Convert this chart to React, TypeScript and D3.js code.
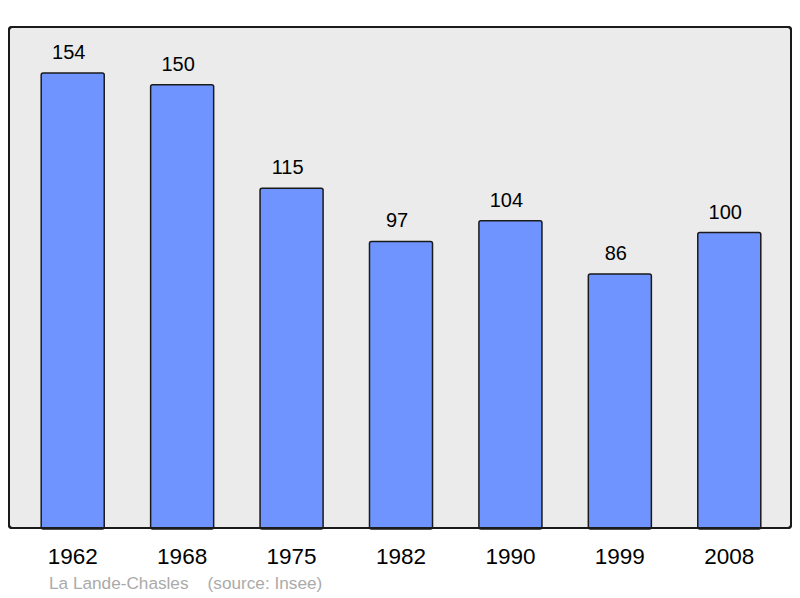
import * as d3 from "d3";

const years = ["1962", "1968", "1975", "1982", "1990", "1999", "2008"];
const population = [154, 150, 115, 97, 104, 86, 100];
const commune = "La Lande-Chasles";
const source = "(source: Insee)";

const W = 800;
const H = 598;
const panel = { left: 9, top: 27, right: 791, bottom: 528 };

export default function App() {
  const x = d3.scaleBand<string>()
    .domain(years)
    .range([18, 784])
    .paddingInner(0.424)
    .paddingOuter(0.212);

  const y = d3.scaleLinear()
    .domain([0, 154])
    .range([panel.bottom, 73]);

  return (
    <svg
      width={W}
      height={H}
      style={{ position: "absolute", left: 0, top: 0 }}
      fontFamily="'Liberation Sans', Arial, sans-serif"
    >
      <rect x={0} y={0} width={W} height={H} fill="#ffffff" />
      <rect
        x={panel.left}
        y={panel.top}
        width={panel.right - panel.left}
        height={panel.bottom - panel.top}
        rx={3}
        fill="#ebebeb"
        stroke="#1a1a1a"
        strokeWidth={2}
      />
      {years.map((yr, i) => {
        const bx = x(yr)!;
        const v = population[i];
        return (
          <g key={yr}>
            <rect
              x={bx}
              y={y(v)}
              width={x.bandwidth()}
              height={panel.bottom - y(v) + 1}
              rx={2}
              fill="#7094ff"
              stroke="#1a1a1a"
              strokeWidth={1.5}
            />
            {/* value labels sit a little left of the bar centre */}
            <text
              x={bx + x.bandwidth() / 2 - 4}
              y={y(v) - 14}
              textAnchor="middle"
              fontSize={20}
              fill="#000"
            >
              {v}
            </text>
            <text
              x={bx + x.bandwidth() / 2}
              y={564}
              textAnchor="middle"
              fontSize={22.5}
              fill="#000"
            >
              {yr}
            </text>
          </g>
        );
      })}
      <rect
        x={panel.left}
        y={panel.top}
        width={panel.right - panel.left}
        height={panel.bottom - panel.top}
        rx={3}
        fill="none"
        stroke="#1a1a1a"
        strokeWidth={2}
      />
      <text x={49} y={589} fontSize={17.2} fill="#aaaaaa" xmlSpace="preserve">
        {`${commune}    ${source}`}
      </text>
    </svg>
  );
}
